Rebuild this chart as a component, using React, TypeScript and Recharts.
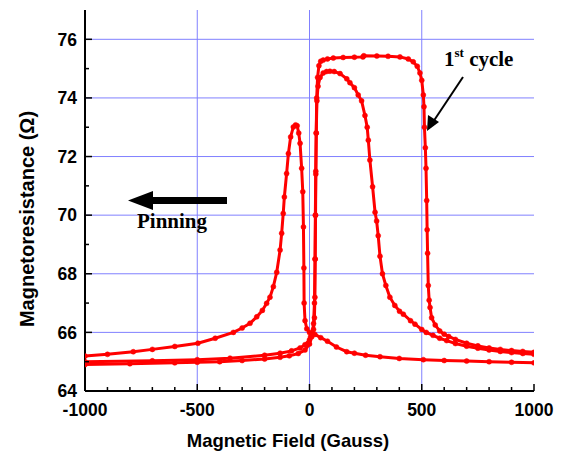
import React from "react";
import { LineChart, Line, XAxis, YAxis, ReferenceLine } from "recharts";

// field in Gauss, resistance in Ohm
const firstCycle: [number, number][] = [
  [-1000, 64.9], [-800, 64.93], [-600, 64.96], [-500, 64.98], [-400, 65.0], [-300, 65.04],
  [-200, 65.09], [-131, 65.15], [-90, 65.2], [-50, 65.28], [-20, 65.4], [0, 65.6],
  [10, 65.85], [18, 66.3], [22, 67.0], [25, 68.5], [27, 70.0], [28, 71.4], [30, 72.8],
  [32, 74.0], [36, 74.7], [42, 75.1], [50, 75.25], [61, 75.29], [80, 75.33], [106, 75.36],
  [150, 75.38], [200, 75.39], [238, 75.4], [242, 75.44], [300, 75.43], [350, 75.42],
  [403, 75.4], [440, 75.33], [462, 75.23], [480, 75.08], [492, 74.85], [500, 74.6],
  [507, 74.1], [510, 73.7], [512, 73.0], [516, 72.3], [519, 71.6], [522, 70.5], [524, 69.5],
  [526, 68.7], [529, 67.6], [533, 67.1], [537, 66.85], [544, 66.5], [560, 66.25],
  [580, 66.05], [600, 65.94], [620, 65.86], [650, 65.76], [700, 65.63], [750, 65.54],
  [800, 65.47], [850, 65.42], [900, 65.38], [950, 65.35], [1000, 65.32],
];

const sweepDown: [number, number][] = [
  [1000, 65.25], [950, 65.28], [900, 65.31], [850, 65.35], [800, 65.4], [750, 65.46],
  [700, 65.53], [650, 65.62], [611, 65.72], [580, 65.8], [550, 65.9], [520, 66.0],
  [500, 66.1], [470, 66.28], [450, 66.4], [418, 66.62], [401, 66.72], [380, 66.92],
  [358, 67.2], [340, 67.6], [325, 68.0], [314, 68.6], [306, 69.3], [299, 69.8],
  [292, 70.1], [281, 70.97], [269, 71.88], [262, 72.56], [257, 73.0], [247, 73.4],
  [232, 73.9], [217, 74.1], [200, 74.35], [180, 74.52], [166, 74.65], [136, 74.83],
  [110, 74.9], [91, 74.91], [76, 74.9], [61, 74.85], [47, 74.7], [38, 74.4], [33, 73.9],
  [30, 72.8], [28, 71.5], [26, 70.0], [25, 68.5], [24, 67.2], [22, 66.5], [18, 66.1],
  [12, 65.95], [5, 65.85], [0, 65.75], [-20, 65.58], [-42, 65.47], [-80, 65.37],
  [-131, 65.29], [-200, 65.22], [-354, 65.12], [-500, 65.07], [-700, 65.03], [-1000, 65.0],
];

const sweepUp: [number, number][] = [
  [-1000, 65.19], [-900, 65.25], [-785, 65.34], [-700, 65.42], [-600, 65.52], [-497, 65.63],
  [-420, 65.8], [-339, 66.0], [-300, 66.15], [-265, 66.31], [-235, 66.53], [-210, 66.75],
  [-191, 66.99], [-176, 67.2], [-161, 67.56], [-146, 68.05], [-131, 68.81], [-124, 69.38],
  [-117, 70.06], [-112, 70.62], [-102, 71.42], [-94, 72.1], [-84, 72.67], [-72, 73.01],
  [-62, 73.08], [-55, 73.05], [-48, 72.8], [-42, 72.45], [-35, 71.6], [-30, 70.8],
  [-27, 69.6], [-25, 68.2], [-24, 67.0], [-20, 66.4], [-12, 66.12], [0, 66.0], [10, 65.97],
  [24, 65.93], [50, 65.82], [80, 65.7], [120, 65.5], [166, 65.34], [200, 65.29],
  [250, 65.22], [314, 65.17], [400, 65.11], [507, 65.07], [600, 65.04], [700, 65.02],
  [800, 65.0], [900, 64.98], [1000, 64.96],
];

const fieldTicks = [-1000, -900, -800, -700, -600, -500, -400, -300, -200, -100, 0, 100, 200, 300, 400, 500, 600, 700, 800, 900, 1000];
const resistanceTicks = [64, 65, 66, 67, 68, 69, 70, 71, 72, 73, 74, 75, 76];
const fieldGrid = [-500, 0, 500];
const resistanceGrid = [66, 68, 70, 72, 74, 76];

const toPoints = (rows: [number, number][]) => rows.map(([h, r]) => ({ h, r }));

const RED = "#ff0000";
const GRID = "#8080ff";
const SANS = "Arial, 'Liberation Sans', sans-serif";
const SERIF = "'Times New Roman', 'Liberation Serif', serif";

const BottomTick = (props: any) => {
  const { x, y, payload } = props;
  const major = payload.value % 500 === 0;
  return (
    <g>
      <line x1={x} y1={y} x2={x} y2={y - (major ? 7 : 4)} stroke="#000" strokeWidth={1.5} />
      {major && (
        <text x={x} y={y + 25} textAnchor="middle" fontFamily={SANS} fontWeight="bold" fontSize={17.5} fill="#000">
          {payload.value}
        </text>
      )}
    </g>
  );
};

const TopTick = (props: any) => {
  const { x, y, payload } = props;
  const major = payload.value % 500 === 0;
  return <line x1={x} y1={y} x2={x} y2={y + (major ? 7 : 4)} stroke="#000" strokeWidth={1.5} />;
};

const LeftTick = (props: any) => {
  const { x, y, payload } = props;
  const major = payload.value % 2 === 0;
  return (
    <g>
      <line x1={x} y1={y} x2={x + (major ? 7 : 4)} y2={y} stroke="#000" strokeWidth={1.5} />
      {major && (
        <text x={x - 8} y={y} dy="0.36em" textAnchor="end" fontFamily={SANS} fontWeight="bold" fontSize={17.5} fill="#000">
          {payload.value}
        </text>
      )}
    </g>
  );
};

const RightTick = (props: any) => {
  const { x, y, payload } = props;
  const major = payload.value % 2 === 0;
  return <line x1={x} y1={y} x2={x - (major ? 7 : 4)} y2={y} stroke="#000" strokeWidth={1.5} />;
};

const axisLine = { stroke: "#000", strokeWidth: 2 };

export default function App() {
  return (
    <div style={{ position: "absolute", left: 0, top: 0, width: 561, height: 452, background: "#fff" }}>
      <LineChart width={561} height={452} margin={{ top: 10, right: 27, bottom: 0, left: 0 }}>
        <XAxis
          dataKey="h"
          type="number"
          domain={[-1000, 1000]}
          ticks={fieldTicks}
          interval={0}
          tickSize={0}
          tickMargin={0}
          tick={<BottomTick />}
          axisLine={axisLine}
          height={61}
          allowDataOverflow
        />
        <XAxis
          xAxisId="top"
          orientation="top"
          dataKey="h"
          type="number"
          domain={[-1000, 1000]}
          ticks={fieldTicks}
          interval={0}
          tickSize={0}
          tickMargin={0}
          tick={<TopTick />}
          axisLine={axisLine}
          height={0}
        />
        <YAxis
          type="number"
          domain={[64, 77]}
          ticks={resistanceTicks}
          interval={0}
          tickSize={0}
          tickMargin={0}
          tick={<LeftTick />}
          axisLine={axisLine}
          width={85}
          allowDataOverflow
        />
        <YAxis
          yAxisId="right"
          orientation="right"
          type="number"
          domain={[64, 77]}
          ticks={resistanceTicks}
          interval={0}
          tickSize={0}
          tickMargin={0}
          tick={<RightTick />}
          axisLine={axisLine}
          width={0}
        />
        {fieldGrid.map((v) => (
          <ReferenceLine key={"x" + v} x={v} stroke={GRID} strokeWidth={1} />
        ))}
        {resistanceGrid.map((v) => (
          <ReferenceLine key={"y" + v} y={v} stroke={GRID} strokeWidth={1} />
        ))}
        {[firstCycle, sweepDown, sweepUp].map((rows, i) => (
          <Line
            key={i}
            data={toPoints(rows)}
            dataKey="r"
            type="linear"
            stroke={RED}
            strokeWidth={3}
            dot={{ r: 2.5, fill: RED, stroke: RED, strokeWidth: 0.5 }}
            isAnimationActive={false}
          />
        ))}
      </LineChart>
      <svg width={561} height={452} style={{ position: "absolute", left: 0, top: 0, pointerEvents: "none" }}>
        <text x={288} y={447} textAnchor="middle" fontFamily={SANS} fontWeight="bold" fontSize={18.5} fill="#000">
          Magnetic Field (Gauss)
        </text>
        <text
          x={34}
          y={219}
          textAnchor="middle"
          fontFamily={SANS}
          fontWeight="bold"
          fontSize={20}
          fill="#000"
          transform="rotate(-90 34 219)"
        >
          Magnetoresistance (Ω)
        </text>
        <text x={444} y={66} fontFamily={SERIF} fontWeight="bold" fontSize={21} fill="#000">
          1<tspan dy={-9} fontSize={13}>st</tspan>
          <tspan dy={9}> cycle</tspan>
        </text>
        <line x1={463} y1={77} x2={433} y2={122} stroke="#000" strokeWidth={2} />
        <polygon points="427,131 428,115 439,122" fill="#000" />
        <rect x={150} y={197} width={77} height={7} fill="#000" />
        <polygon points="128,200.5 153,191 153,210" fill="#000" />
        <text x={137} y={228} fontFamily={SERIF} fontWeight="bold" fontSize={21} fill="#000">
          Pinning
        </text>
      </svg>
    </div>
  );
}
